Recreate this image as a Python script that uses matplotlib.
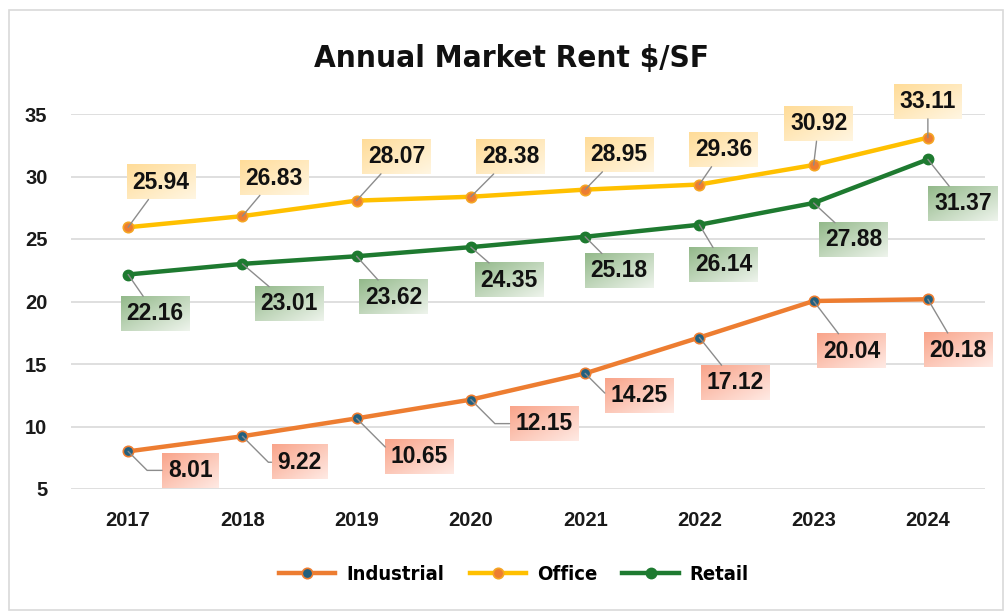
import numpy as np
import matplotlib
matplotlib.use("Agg")
import matplotlib.pyplot as plt
from matplotlib.image import BboxImage
from matplotlib.patches import Rectangle
from matplotlib.colors import to_rgb
from matplotlib import font_manager as fm

years = ["2017", "2018", "2019", "2020", "2021", "2022", "2023", "2024"]
industrial = [8.01, 9.22, 10.65, 12.15, 14.25, 17.12, 20.04, 20.18]
office = [25.94, 26.83, 28.07, 28.38, 28.95, 29.36, 30.92, 33.11]
retail = [22.16, 23.01, 23.62, 24.35, 25.18, 26.14, 27.88, 31.37]
yticks = [5, 10, 15, 20, 25, 30, 35]

# label offsets in pixels (style)
off_office = [(33, 45), (32, 38), (40, 44), (40, 40), (34, 35), (24, 35), (5, 41), (0, 36)]
off_retail = [(27, -39), (47, -40), (37, -41), (38, -33), (34, -34), (24, -40), (40, -37), (35, -44)]
off_ind = [(62, -19), (57, -26), (63, -38), (73, -24), (54, -22), (36, -45), (38, -50), (30, -51)]

SANS = ["Liberation Sans", "DejaVu Sans"]
cond = None
for f in fm.fontManager.ttflist:
    if "Condensed" in f.fname and "DejaVuSans" in f.fname and "Bold" in f.fname and "Oblique" not in f.fname:
        cond = f.fname
        break
if cond:
    narrow_fp = lambda size: fm.FontProperties(fname=cond, size=size)
else:
    narrow_fp = lambda size: fm.FontProperties(family=["Liberation Sans Narrow", "Liberation Sans"], weight="bold", size=size)

fig = plt.figure(figsize=(10.06, 6.13), dpi=100)
W, H = 1006, 613
ax = fig.add_axes([71 / W, 1 - 489 / H, (985 - 71) / W, (489 - 114) / H])

x = np.arange(len(years))
c_ind, c_off, c_ret = "#ED7D31", "#FFC000", "#1E7A30"
ax.plot(x, industrial, color=c_ind, lw=3.2, marker="o", ms=7.5, mfc="#22607F", mec=c_ind, mew=1.2, zorder=3, label="Industrial")
ax.plot(x, office, color=c_off, lw=3.2, marker="o", ms=7.5, mfc="#ED7D31", mec="#F5A623", mew=1.2, zorder=3, label="Office")
ax.plot(x, retail, color=c_ret, lw=3.2, marker="o", ms=7.5, mfc=c_ret, mec=c_ret, zorder=3, label="Retail")

ax.set_xlim(-0.5, len(years) - 0.5)
ax.set_ylim(5, 35)
ax.set_yticks(yticks)
ax.set_xticks(x)
ax.set_xticklabels(years)
ax.grid(axis="y", color="#D9D9D9", lw=1.2)
ax.set_axisbelow(True)
for s in ax.spines.values():
    s.set_visible(False)
ax.tick_params(axis="both", length=0, labelsize=14.5)
ax.tick_params(axis="y", pad=17)
ax.tick_params(axis="x", pad=16)
for t in ax.get_xticklabels() + ax.get_yticklabels():
    t.set_fontfamily(SANS)
    t.set_fontweight("bold")
    t.set_color("#1a1a1a")

anns = []
def label(vals, offs, grad, elbow_n=0):
    for i, (v, o) in enumerate(zip(vals, offs)):
        cs = "arc3"
        if i < elbow_n:
            cs = "angle,angleA=0,angleB=-45,rad=0"
        a = ax.annotate(f"{v:.2f}", xy=(i, v), xytext=o, textcoords="offset pixels",
                        ha="center", va="center", fontsize=16.5, fontweight="bold",
                        family=SANS, color="#111111", zorder=6,
                        bbox=dict(boxstyle="square,pad=0.25", fc="none", ec="none"),
                        arrowprops=dict(arrowstyle="-", color="#8C8C8C", lw=1.0,
                                        shrinkA=0, shrinkB=0, connectionstyle=cs))
        anns.append((a, grad))

label(office, off_office, ("#FFDC98", "#FFF6E2"))
label(retail, off_retail, ("#93B98A", "#EEF4EC"))
label(industrial, off_ind, ("#F9A48A", "#FFEAE4"), elbow_n=5)

fig.text(511 / W, 1 - 58 / H, "Annual Market Rent $/SF", ha="center", va="center",
         fontproperties=narrow_fp(22.5), color="#111111")

leg = fig.legend(loc="center", bbox_to_anchor=(514 / W, 1 - 575 / H), ncol=3, frameon=False,
                 handlelength=2.8, columnspacing=1.25, handletextpad=0.55,
                 prop=narrow_fp(14.5))

fig.patches.append(Rectangle((9 / W, 3 / H), 994 / W, 600 / H, transform=fig.transFigure,
                             fill=False, ec="#D9D9D9", lw=1.2))

fig.canvas.draw()
r = fig.canvas.get_renderer()
n = 64
gy, gx = np.mgrid[0:n, 0:n]
for a, (c1, c2) in anns:
    bb = a.get_bbox_patch().get_window_extent(r)
    c1r, c2r = np.array(to_rgb(c1)), np.array(to_rgb(c2))
    tt = (gx + gy) / (2 * (n - 1))
    img = c1r[None, None, :] * (1 - tt[..., None]) + c2r[None, None, :] * tt[..., None]
    bi = BboxImage(bb, interpolation="bilinear", origin="upper", zorder=5)
    bi.set_data(img)
    ax.add_artist(bi)
    bi.set_clip_on(False)

fig.savefig("out.png", dpi=100)
